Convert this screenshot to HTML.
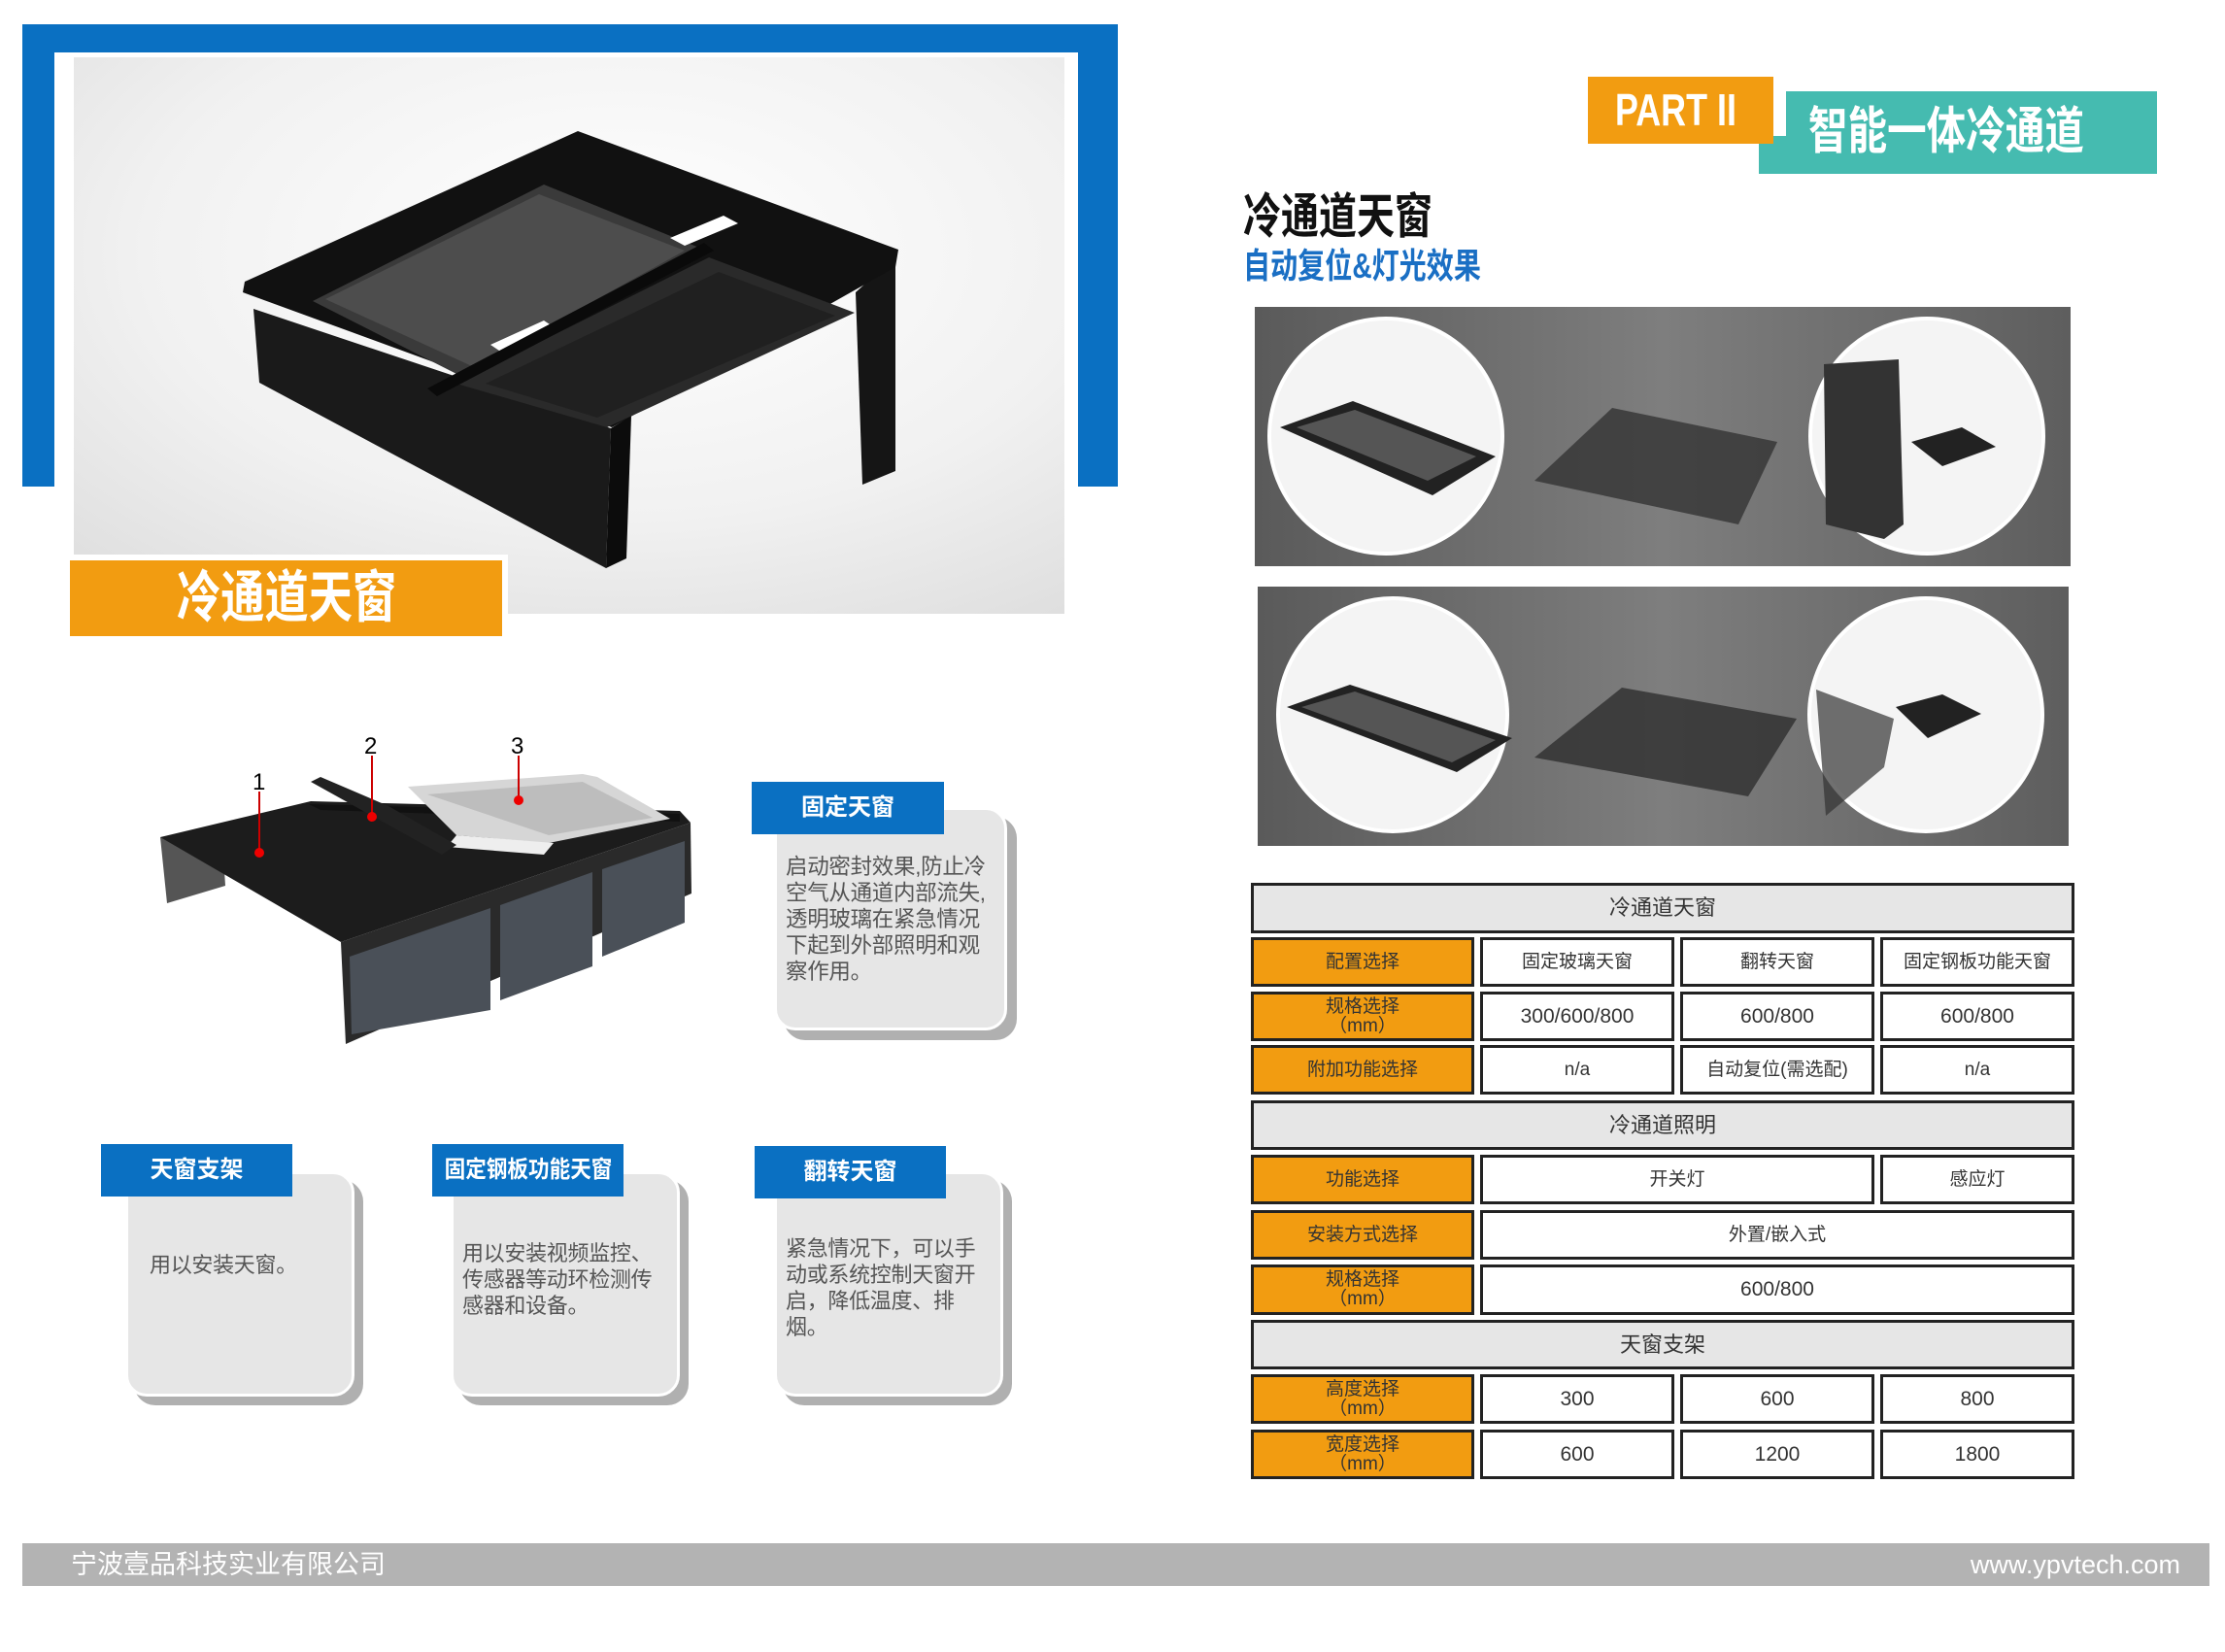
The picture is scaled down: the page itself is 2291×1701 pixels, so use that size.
<!DOCTYPE html>
<html><head><meta charset="utf-8">
<style>
*{margin:0;padding:0;box-sizing:border-box}
body{width:2291px;height:1701px;background:#fff;position:relative;overflow:hidden;font-family:"Liberation Sans","Noto Sans CJK SC",sans-serif}
.a{position:absolute}
.cond{display:inline-block;transform:scaleX(.78);transform-origin:left center;white-space:nowrap}
.hdr{background:#0a70c2;color:#fff;font-weight:bold;font-size:24px;text-align:center;line-height:54px;z-index:3}
.sh{background:#b0b0b0;border-radius:22px}
.card{background:#e6e6e6;border:3px solid #fff;border-radius:22px;color:#555;font-size:22px;line-height:27px;padding:0 6px 0 9px;letter-spacing:-0.3px}
.t .r{position:absolute;border:3px solid #222;display:flex;align-items:center;justify-content:center;font-size:19px;color:#333;text-align:center;line-height:20px}
.g{background:#e6e6e6;font-size:22px!important}
.o{background:#f29c11}
.w{background:#fff}
</style></head><body>

<div class="a" style="left:23px;top:25px;width:1128px;height:29px;background:#0a70c2"></div>
<div class="a" style="left:23px;top:25px;width:33px;height:476px;background:#0a70c2"></div>
<div class="a" style="left:1110px;top:25px;width:41px;height:476px;background:#0a70c2"></div>

<svg class="a" style="left:76px;top:59px" width="1020" height="573" viewBox="76 59 1020 573">
<defs><radialGradient id="bg" cx="0.55" cy="0.35" r="0.8"><stop offset="0" stop-color="#fff"/><stop offset="0.6" stop-color="#f1f1f1"/><stop offset="1" stop-color="#dedede"/></radialGradient></defs>
<rect x="76" y="59" width="1020" height="573" fill="url(#bg)"/>
<polygon points="881,301 922,264 922,485 888,499" fill="#151515"/>
<polygon points="595,135 925,257 922,275 630,440 250,301 252,290" fill="#111"/>
<polygon points="261,318 629,441 624,585 267,394" fill="#1a1a1a"/>
<polygon points="629,441 650,428 645,575 624,585" fill="#0c0c0c"/>
<polygon points="322,310 560,190 720,255 480,390" fill="#3a3a3a"/>
<polygon points="335,308 555,200 705,258 488,378" fill="#4d4d4d"/>
<polygon points="470,395 730,265 880,322 625,440" fill="#2a2a2a"/>
<polygon points="500,395 740,280 860,325 615,430" fill="#202020"/>
<polygon points="690,245 745,222 760,230 705,253" fill="#fff"/>
<polygon points="505,355 560,330 575,340 520,365" fill="#fff"/>
<polygon points="440,400 725,250 735,258 450,408" fill="#0a0a0a"/>
</svg>

<div class="a" style="left:66px;top:571px;width:457px;height:90px;background:#fff"></div>
<div class="a" style="left:72px;top:577px;width:445px;height:78px;background:#f29c11;color:#fff;font-weight:bold;font-size:58px;line-height:78px;padding-left:110px"><span class="cond">冷通道天窗</span></div>

<svg class="a" style="left:150px;top:740px" width="580" height="350" viewBox="150 740 580 350">
<polygon points="165,862 172,930 232,912 230,880" fill="#555"/>
<polygon points="165,862 320,825 700,835 711,847 351,970" fill="#1c1c1c"/>
<polygon points="318,828 700,838 700,846 330,834" fill="#111"/>
<polygon points="420,810 600,797 615,800 690,843 565,868 470,860" fill="#d6d6d6"/>
<polygon points="440,818 600,805 672,842 565,860" fill="#bdbdbd"/>
<polygon points="470,860 570,868 560,880 460,872" fill="#eee"/>
<polygon points="330,800 400,830 470,870 455,880 320,805" fill="#222"/>
<polygon points="351,970 711,847 712,920 356,1075" fill="#2a2a2a"/>
<polygon points="360,985 505,935 505,1040 362,1065" fill="#4a5058"/>
<polygon points="515,932 610,898 610,995 515,1030" fill="#4a5058"/>
<polygon points="620,895 705,866 705,950 620,985" fill="#4a5058"/>
<text x="260" y="813" font-size="24" font-family="Liberation Sans">1</text>
<text x="375" y="776" font-size="24" font-family="Liberation Sans">2</text>
<text x="526" y="776" font-size="24" font-family="Liberation Sans">3</text>
<line x1="267" y1="815" x2="267" y2="877" stroke="#c00" stroke-width="2"/>
<line x1="383" y1="778" x2="383" y2="840" stroke="#c00" stroke-width="2"/>
<line x1="534" y1="778" x2="534" y2="823" stroke="#c00" stroke-width="2"/>
<circle cx="267" cy="878" r="5" fill="#e00"/><circle cx="383" cy="841" r="5" fill="#e00"/><circle cx="534" cy="824" r="5" fill="#e00"/>
</svg>

<div class="a sh" style="left:807px;top:841px;width:240px;height:230px"></div>
<div class="a card" style="left:797px;top:831px;width:240px;height:230px;padding-top:45px;font-size:22.5px">启动密封效果,防止冷空气从通道内部流失,透明玻璃在紧急情况下起到外部照明和观察作用。</div>
<div class="a hdr" style="left:774px;top:805px;width:198px">固定天窗</div>

<div class="a sh" style="left:138px;top:1215px;width:236px;height:232px"></div>
<div class="a card" style="left:129px;top:1206px;width:236px;height:232px;padding-top:80px;padding-left:22px">用以安装天窗。</div>
<div class="a hdr" style="left:104px;top:1178px;width:197px">天窗支架</div>

<div class="a sh" style="left:473px;top:1215px;width:236px;height:232px"></div>
<div class="a card" style="left:464px;top:1206px;width:236px;height:232px;padding-top:68px">用以安装视频监控、传感器等动环检测传感器和设备。</div>
<div class="a hdr" style="left:445px;top:1178px;width:197px"><span style="display:inline-block;transform:scaleX(.9)">固定钢板功能天窗</span></div>

<div class="a sh" style="left:806px;top:1215px;width:236px;height:232px"></div>
<div class="a card" style="left:797px;top:1206px;width:236px;height:232px;padding-top:63px">紧急情况下，可以手动或系统控制天窗开启，降低温度、排烟。</div>
<div class="a hdr" style="left:777px;top:1180px;width:197px">翻转天窗</div>

<div class="a" style="left:1811px;top:94px;width:410px;height:85px;background:#45bbb0"></div>
<div class="a" style="left:1825px;top:80px;width:14px;height:60px;background:#fff"></div>
<div class="a" style="left:1635px;top:79px;width:191px;height:69px;background:#f29c11;color:#fff;font-weight:bold;font-size:46px;line-height:69px;padding-left:28px"><span class="cond">PART II</span></div>
<div class="a" style="left:1862px;top:94px;height:85px;color:#fff;font-weight:bold;font-size:52px;line-height:85px"><span class="cond">智能一体冷通道</span></div>

<div class="a" style="left:1280px;top:193px;font-size:50px;font-weight:bold;color:#111;line-height:60px"><span class="cond">冷通道天窗</span></div>
<div class="a" style="left:1280px;top:252px;font-size:36px;font-weight:bold;color:#1a6fc4;line-height:44px"><span class="cond">自动复位&amp;灯光效果</span></div>

<svg class="a" style="left:1292px;top:315px" width="840" height="558" viewBox="1292 315 840 558">
<defs><linearGradient id="pg" x1="0" x2="1"><stop offset="0" stop-color="#5a5a5a"/><stop offset=".5" stop-color="#7e7e7e"/><stop offset="1" stop-color="#5e5e5e"/></linearGradient></defs>
<rect x="1292" y="316" width="840" height="267" fill="url(#pg)"/>
<rect x="1295" y="604" width="835" height="267" fill="url(#pg)"/>
<ellipse cx="1427" cy="449" rx="120" ry="121" fill="#f4f4f4" stroke="#fff" stroke-width="4"/>
<ellipse cx="1984" cy="449" rx="120" ry="121" fill="#f4f4f4" stroke="#fff" stroke-width="4"/>
<ellipse cx="1434" cy="736" rx="118" ry="120" fill="#f4f4f4" stroke="#fff" stroke-width="4"/>
<ellipse cx="1983" cy="736" rx="120" ry="120" fill="#f4f4f4" stroke="#fff" stroke-width="4"/>
<polygon points="1318,440 1393,413 1540,470 1475,510" fill="#222"/>
<polygon points="1335,440 1395,422 1520,470 1470,495" fill="#555"/>
<polygon points="1580,495 1660,420 1830,455 1790,540" fill="#333" opacity=".8"/>
<polygon points="1878,375 1955,370 1960,540 1940,555 1880,540" fill="#333"/>
<polygon points="1968,455 2020,440 2055,460 2000,480" fill="#222"/>
<polygon points="1325,728 1390,705 1557,760 1500,795" fill="#222"/>
<polygon points="1340,728 1395,712 1540,762 1495,785" fill="#555"/>
<polygon points="1580,780 1670,708 1850,740 1800,820" fill="#333" opacity=".85"/>
<polygon points="1952,728 2000,715 2040,735 1985,760" fill="#222"/>
<polygon points="1870,710 1950,740 1940,790 1880,840" fill="#333" opacity=".7"/>
</svg>

<div class="t">
<div class="r g" style="left:1288px;top:909px;width:848px;height:52px">冷通道天窗</div>
<div class="r o" style="left:1288px;top:965px;width:230px;height:51px">配置选择</div>
<div class="r w" style="left:1524px;top:965px;width:200px;height:51px">固定玻璃天窗</div>
<div class="r w" style="left:1730px;top:965px;width:200px;height:51px">翻转天窗</div>
<div class="r w" style="left:1936px;top:965px;width:200px;height:51px">固定钢板功能天窗</div>
<div class="r o" style="left:1288px;top:1021px;width:230px;height:51px">规格选择<br>（mm）</div>
<div class="r w" style="left:1524px;top:1021px;width:200px;height:51px;font-size:21px">300/600/800</div>
<div class="r w" style="left:1730px;top:1021px;width:200px;height:51px;font-size:21px">600/800</div>
<div class="r w" style="left:1936px;top:1021px;width:200px;height:51px;font-size:21px">600/800</div>
<div class="r o" style="left:1288px;top:1076px;width:230px;height:51px">附加功能选择</div>
<div class="r w" style="left:1524px;top:1076px;width:200px;height:51px">n/a</div>
<div class="r w" style="left:1730px;top:1076px;width:200px;height:51px">自动复位(需选配)</div>
<div class="r w" style="left:1936px;top:1076px;width:200px;height:51px">n/a</div>
<div class="r g" style="left:1288px;top:1133px;width:848px;height:51px">冷通道照明</div>
<div class="r o" style="left:1288px;top:1189px;width:230px;height:51px">功能选择</div>
<div class="r w" style="left:1524px;top:1189px;width:406px;height:51px">开关灯</div>
<div class="r w" style="left:1936px;top:1189px;width:200px;height:51px">感应灯</div>
<div class="r o" style="left:1288px;top:1246px;width:230px;height:51px">安装方式选择</div>
<div class="r w" style="left:1524px;top:1246px;width:612px;height:51px">外置/嵌入式</div>
<div class="r o" style="left:1288px;top:1302px;width:230px;height:52px">规格选择<br>（mm）</div>
<div class="r w" style="left:1524px;top:1302px;width:612px;height:52px;font-size:21px">600/800</div>
<div class="r g" style="left:1288px;top:1359px;width:848px;height:51px">天窗支架</div>
<div class="r o" style="left:1288px;top:1415px;width:230px;height:51px">高度选择<br>（mm）</div>
<div class="r w" style="left:1524px;top:1415px;width:200px;height:51px;font-size:21px">300</div>
<div class="r w" style="left:1730px;top:1415px;width:200px;height:51px;font-size:21px">600</div>
<div class="r w" style="left:1936px;top:1415px;width:200px;height:51px;font-size:21px">800</div>
<div class="r o" style="left:1288px;top:1472px;width:230px;height:51px">宽度选择<br>（mm）</div>
<div class="r w" style="left:1524px;top:1472px;width:200px;height:51px;font-size:21px">600</div>
<div class="r w" style="left:1730px;top:1472px;width:200px;height:51px;font-size:21px">1200</div>
<div class="r w" style="left:1936px;top:1472px;width:200px;height:51px;font-size:21px">1800</div>
</div>

<div class="a" style="left:23px;top:1589px;width:2252px;height:44px;background:#b3b3b3;color:#fff;font-size:27px;line-height:44px">
<span class="a" style="left:50px">宁波壹品科技实业有限公司</span>
<span class="a" style="right:30px">www.ypvtech.com</span>
</div>
</body></html>
